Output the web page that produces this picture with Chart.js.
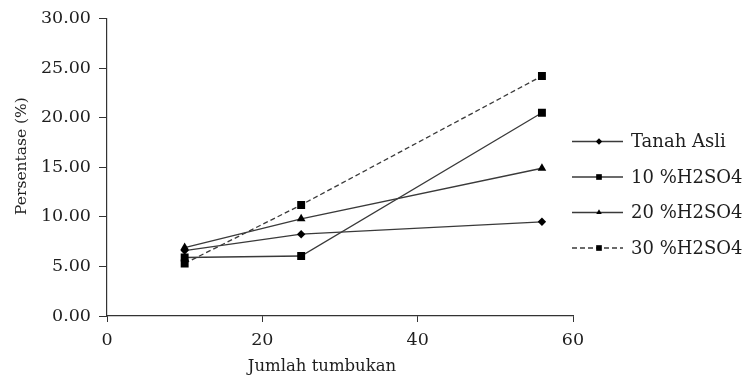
<!DOCTYPE html>
<html>
<head>
<meta charset="utf-8">
<script src="https://cdn.jsdelivr.net/npm/chart.js@4/dist/chart.umd.min.js"></script>
<style>
  html, body { margin: 0; padding: 0; background: #fff; }
  #wrap { width: 742px; height: 378px; }
</style>
</head>
<body>
<div id="wrap"><canvas id="chart" width="742" height="378"></canvas></div>
<script>
// data
const hits = [10, 25, 56];
const tanahAsli = [6.6, 8.25, 9.5];
const h2so4_10 = [5.9, 6.05, 20.5];
const h2so4_20 = [6.9, 9.8, 14.9];
const h2so4_30 = [5.3, 11.2, 24.2];
const seriesNames = ['Tanah Asli', '10 %H2SO4', '20 %H2SO4', '30 %H2SO4'];
const xTicks = [0, 20, 40, 60];
const yTicks = [0, 5, 10, 15, 20, 25, 30];

const serif = 'DejaVu Serif';
const lineCol = '#3a3a3a';
const textCol = '#1e1e1e';

function pts(vals) {
    return hits.map((x, i) => ({ x: x, y: vals[i] }));
}

function ds(label, vals, style, radius, dash) {
    return {
        label: label,
        data: pts(vals),
        borderColor: lineCol,
        borderWidth: 1.3,
        borderDash: dash || [],
        pointStyle: style,
        pointRadius: radius,
        pointBackgroundColor: '#000',
        pointBorderColor: '#000',
        pointBorderWidth: 0,
        fill: false,
        tension: 0
    };
}

// legend + axis titles drawn by hand, the legend has line+marker samples
const extras = {
    id: 'extras',
    afterDraw(chart) {
        const c = chart.ctx;
        c.save();
        c.fillStyle = textCol;
        c.textBaseline = 'middle';

        // axis titles
        c.font = '16.5px "' + serif + '"';
        c.textAlign = 'center';
        c.fillText('Jumlah tumbukan', 322, 367);
        c.save();
        c.translate(22, 156);
        c.rotate(-Math.PI / 2);
        c.font = '15.5px "' + serif + '"';
        c.fillText('Persentase (%)', 0, 0);
        c.restore();

        // legend
        c.font = '18px "' + serif + '"';
        c.textAlign = 'left';
        chart.data.datasets.forEach((d, i) => {
            const y = 141.5 + i * 35.5;
            c.strokeStyle = lineCol;
            c.lineWidth = 1.3;
            c.setLineDash(d.borderDash);
            c.beginPath();
            c.moveTo(572, y);
            c.lineTo(623, y);
            c.stroke();
            c.setLineDash([]);
            c.fillStyle = '#000';
            Chart.helpers.drawPoint(c, {
                pointStyle: d.pointStyle,
                radius: d.pointStyle === 'rect' ? 4 : 3.2,
                rotation: 0,
                borderWidth: 0
            }, 599, y);
            c.fillStyle = textCol;
            c.fillText(d.label, 631, y + 1);
        });
        c.restore();
    }
};

const ctx = document.getElementById('chart').getContext('2d');
const chart = new Chart(ctx, {
    type: 'line',
    data: {
        datasets: [
            ds(seriesNames[0], tanahAsli, 'rectRot', 4.2),
            ds(seriesNames[1], h2so4_10, 'rect', 5.6),
            ds(seriesNames[2], h2so4_20, 'triangle', 5),
            ds(seriesNames[3], h2so4_30, 'rect', 5.6, [5, 3])
        ]
    },
    options: {
        responsive: false,
        animation: false,
        layout: { padding: { left: 0, right: 169, top: 17, bottom: 0 } },
        plugins: {
            legend: { display: false },
            tooltip: { enabled: false }
        },
        scales: {
            x: {
                type: 'linear',
                min: 0,
                max: 60,
                afterBuildTicks: (s) => { s.ticks = xTicks.map(v => ({ value: v })); },
                afterFit: (s) => { s.height = 378 - 316; },
                grid: { drawOnChartArea: false, color: '#333', tickLength: 6 },
                border: { color: '#333', width: 1.2 },
                ticks: {
                    color: textCol,
                    padding: 8,
                    maxRotation: 0,
                    font: { family: serif, size: 17.5 }
                }
            },
            y: {
                min: 0,
                max: 30,
                afterBuildTicks: (s) => { s.ticks = yTicks.map(v => ({ value: v })); },
                afterFit: (s) => { s.width = 107; },
                grid: { drawOnChartArea: false, color: '#333', tickLength: 8 },
                border: { color: '#333', width: 1.2 },
                ticks: {
                    color: textCol,
                    padding: 8,
                    font: { family: serif, size: 17.5 },
                    callback: (v) => Number(v).toFixed(2)
                }
            }
        }
    },
    plugins: [extras]
});
</script>
</body>
</html>
